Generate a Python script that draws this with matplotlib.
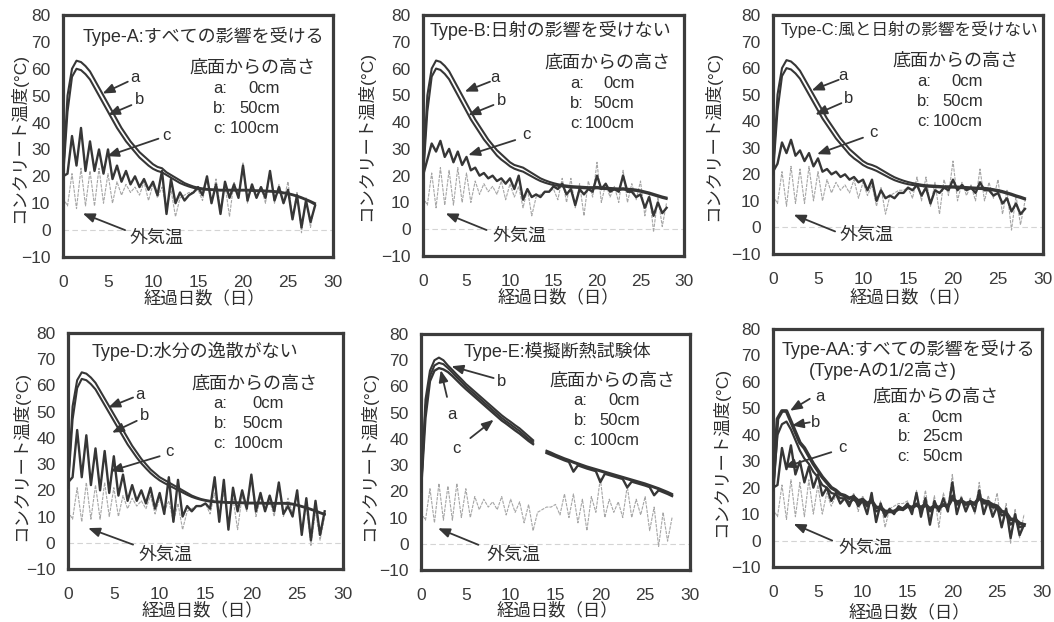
import numpy as np
import matplotlib
matplotlib.use("Agg")
import matplotlib.pyplot as plt

plt.rcParams['font.family'] = ['Liberation Sans', 'Noto Sans CJK JP', 'DejaVu Sans']

# ---------------- data (0.5-day grid, 0..28 days) ----------------
days = np.arange(0, 28.01, 0.5)
xticks = [0, 5, 10, 15, 20, 25, 30]
yticks = [-10, 0, 10, 20, 30, 40, 50, 60, 70, 80]

outdoor = [12, 9, 21, 8, 23, 9, 22, 9, 23, 10, 21, 10, 18, 13, 17, 14, 16, 13, 18, 11,
           17, 12, 16, 8, 15, 5, 12, 13, 14, 14, 15, 11, 19, 10, 19, 8, 17, 5, 18, 12,
           25, 10, 17, 12, 16, 10, 22, 10, 17, 11, 18, 5, 14, -1, 12, 1, 10]

# Type-A
a_A = [20, 50, 60, 63, 62.5, 61, 59, 56, 53, 50, 47, 44, 41, 38, 35.5, 33, 31, 29, 27.5, 26,
       24.5, 23.5, 23, 21.5, 20.5, 19.5, 18.5, 17.5, 16.8, 16.2, 15.8, 15.5, 15.3, 15.2, 15.1, 15, 15, 15, 15, 15,
       15, 15, 14.9, 14.8, 14.8, 14.7, 14.6, 14.5, 14.3, 14, 13.7, 13.3, 12.8, 12.2, 11.5, 10.8, 10]
b_A = [19, 44, 57, 60, 59.5, 58, 56, 53, 50, 47, 44, 41, 38, 35.5, 33, 31, 29, 27, 25.5, 24,
       22.8, 22, 21.5, 20.5, 19.5, 18.5, 17.5, 16.8, 16.2, 15.7, 15.3, 15.1, 15, 14.9, 14.8, 14.7, 14.7, 14.7, 14.7, 14.7,
       14.7, 14.7, 14.6, 14.5, 14.5, 14.4, 14.3, 14.2, 14, 13.7, 13.4, 13, 12.5, 11.9, 11.2, 10.4, 9.5]
c_A = [20, 21, 35, 24, 38, 22, 33, 22, 30, 21, 30, 19, 24, 18, 22, 17, 20, 16, 19, 15,
       18, 13, 22, 6, 19, 10, 14, 11, 13, 14, 16, 13, 20, 10, 17, 6, 18, 12, 17, 12,
       24, 11, 17, 12, 16, 12, 22, 11, 16, 10, 15, 4, 13, 1, 11, 3, 9]

# Type-B
a_B = [20, 50, 60, 63, 62.5, 61, 59, 56, 53, 50, 47, 44, 41, 38.5, 36, 33.5, 31.5, 29.5, 28, 26.5,
       25, 24, 23.5, 23, 22, 21, 20, 19, 18.3, 17.7, 17.2, 16.8, 16.5, 16.3, 16.1, 16, 15.9, 15.8, 15.7, 15.7,
       15.8, 15.6, 15.5, 15.4, 15.3, 15.2, 15.3, 15.1, 15, 14.8, 14.5, 14.1, 13.7, 13.2, 12.7, 12.2, 11.8]
b_B = [19, 44, 57, 60, 59.5, 58, 56, 53, 50, 47, 44, 41, 38.5, 36, 33.5, 31.5, 29.5, 27.5, 26, 24.8,
       23.5, 22.6, 22, 21.5, 20.6, 19.7, 18.8, 18, 17.4, 16.9, 16.5, 16.2, 16, 15.8, 15.6, 15.5, 15.4, 15.3, 15.2, 15.2,
       15.3, 15.1, 15, 14.9, 14.8, 14.7, 14.8, 14.6, 14.5, 14.3, 14, 13.6, 13.2, 12.7, 12.2, 11.7, 11.3]
c_B = [20, 26, 32, 29, 33, 27, 30, 25, 29, 24, 27, 22, 23, 20, 21, 19, 20, 18, 19, 17,
       19, 15, 20, 11, 15, 12, 13, 12, 14, 14, 16, 15, 17, 13, 15, 9, 15, 13, 15, 14,
       20, 15, 17, 14, 15, 14, 20, 14, 14, 12, 13, 8, 12, 5, 10, 6, 8]

# Type-C
a_C = [21, 50, 60, 63, 62.5, 61, 59, 56, 53, 50, 47, 44, 41, 38.5, 36, 33.5, 31.5, 29.5, 28, 26.5,
       25, 24, 23.5, 22.8, 21.8, 20.8, 19.8, 18.9, 18.2, 17.6, 17.1, 16.7, 16.4, 16.1, 15.9, 15.8, 15.7, 15.6, 15.5, 15.5,
       15.5, 15.4, 15.3, 15.2, 15.1, 15, 15, 14.9, 14.7, 14.4, 14.1, 13.7, 13.2, 12.7, 12.1, 11.6, 11]
b_C = [20, 44, 57, 60, 59.5, 58, 56, 53, 50, 47, 44, 41, 38.5, 36, 33.5, 31.5, 29.5, 27.5, 26, 24.8,
       23.5, 22.6, 22, 21.3, 20.4, 19.5, 18.6, 17.8, 17.2, 16.7, 16.3, 16, 15.8, 15.6, 15.4, 15.3, 15.2, 15.1, 15, 15,
       15, 14.9, 14.8, 14.7, 14.6, 14.5, 14.5, 14.4, 14.2, 13.9, 13.6, 13.2, 12.7, 12.2, 11.6, 11.1, 10.5]
c_C = [21, 24, 32, 28, 33, 27, 29, 25, 28, 23, 26, 21, 22, 20, 21, 19, 20, 18, 19, 17,
       18, 14, 18, 10, 14, 11, 12, 11, 13, 13, 15, 14, 16, 12, 15, 9, 14, 13, 15, 14,
       18, 14, 16, 14, 15, 13, 17, 14, 14, 12, 13, 9, 11, 6, 9, 5, 7]

# Type-D
a_D = [22, 52, 62, 65, 64.5, 63, 61, 58, 55, 52, 49, 46, 43, 40, 37, 34.5, 32, 30, 28, 26.5,
       25, 24, 23, 22, 21, 20, 19, 18, 17.3, 16.7, 16.3, 16, 15.8, 15.7, 15.6, 15.5, 15.5, 15.4, 15.4, 15.3,
       15.3, 15.3, 15.3, 15.2, 15.2, 15.2, 15.2, 15.2, 15.2, 14.9, 14.5, 14, 13.5, 12.9, 12.3, 11.6, 11]
b_D = [21, 47, 59, 62.5, 62, 60.5, 58.5, 55.5, 52.5, 49.5, 46.5, 43.5, 40.5, 37.5, 35, 32.5, 30.3, 28.4, 26.6, 25.1,
       23.8, 22.8, 21.9, 21, 20.1, 19.2, 18.3, 17.5, 16.9, 16.4, 16, 15.7, 15.5, 15.4, 15.3, 15.2, 15.2, 15.1, 15.1, 15,
       15, 15, 15, 14.9, 14.9, 14.9, 14.9, 14.9, 14.8, 14.6, 14.2, 13.7, 13.2, 12.6, 12, 11.3, 10.7]
c_D = [23, 25, 43, 25, 41, 22, 36, 20, 35, 19, 33, 18, 26, 16, 22, 16, 20, 15, 21, 13,
       19, 11, 25, 8, 24, 10, 14, 12, 14, 14, 15, 13, 25, 8, 24, 5, 21, 12, 20, 13,
       26, 12, 19, 12, 18, 12, 23, 11, 14, 10, 20, 3, 17, 1, 16, 3, 12]

# Type-E (gap in record around day 13)
nan = np.nan
a_E = [20, 52, 64, 68, 69, 68.5, 67, 65.3, 63.5, 61.8, 60, 58.5, 57, 55.5, 54, 52.5, 51, 49.5, 48, 46.7,
       45.5, 44.2, 43, 41.5, 40, 38.8, nan, nan, 35, 34.3, 33.6, 32.9, 32.2, 31.6, 30.9, 30.3, 29.7, 29.1, 28.6, 28.1,
       27.6, 27.1, 26.6, 26.1, 25.6, 25.1, 24.6, 24.1, 23.6, 23.1, 22.6, 22, 21.4, 20.8, 20.1, 19.4, 18.6]
b_E = [20, 55, 66, 70, 71, 70, 68, 66.3, 64.5, 62.8, 61, 59.5, 58, 56.5, 55, 53.5, 52, 50.5, 49, 47.7,
       46.5, 45.2, 44, 42.5, 41, 39.5, nan, nan, 35.5, 34.8, 34, 33.3, 32.6, 32, 31.3, 30.7, 30.1, 29.5, 29, 28.5,
       28, 27.5, 27, 26.5, 26, 25.5, 25, 24.5, 24, 23.5, 23, 22.4, 21.8, 21.2, 20.5, 19.8, 19]
c_E = [20, 48, 62, 66, 67, 66.5, 65.5, 64, 62.3, 60.6, 59, 57.5, 56, 54.5, 53, 51.5, 50, 48.5, 47, 45.8,
       44.5, 43.2, 42, 40.6, 39.2, 38, nan, nan, 34.6, 33.9, 33.2, 32.5, 31.8, 31.2, 27.5, 29.9, 29.3, 28.7, 28.2, 27.7,
       23.5, 26.7, 26.2, 25.7, 25.2, 24.7, 21.5, 23.7, 23.2, 22.7, 22.2, 21.6, 18.5, 20.4, 19.7, 19, 18.2]

# Type-AA (half height)
a_AA = [20, 46, 49, 49, 45, 41, 37, 35, 32, 29, 26.5, 24, 22, 20, 19, 17.5, 17, 16, 16.5, 15,
        15.5, 14, 15, 12.5, 12.5, 11, 11, 11, 12, 12, 13, 12.5, 13.5, 12.5, 13.5, 12, 13, 12.5, 13.5, 13,
        16, 14.5, 15, 14, 14.5, 14, 16, 15, 14.5, 13.5, 13, 11, 10.5, 8, 8, 6.5, 6]
b_AA = [19, 40, 44, 45, 42, 38, 34, 31, 29, 26, 24, 21, 20, 18, 17.5, 16, 16, 14.5, 15.5, 14,
        15, 13, 15, 11, 12, 10.5, 11, 10.5, 12, 11.5, 13, 12, 14, 11.5, 13.5, 11, 13, 12, 13.5, 12.5,
        17, 13.5, 15, 13.5, 14, 13.5, 16.5, 14, 14, 12.5, 12.5, 9.5, 10, 6, 8, 5, 5.5]
c_AA = [20, 21, 35, 27, 36, 25, 30, 22, 28, 20, 25, 17, 20, 15, 18, 14, 16, 13, 17, 13,
        15, 10, 18, 7, 14, 9, 12, 10, 13, 12, 14, 10, 18, 9, 16, 6, 15, 11, 16, 11,
        22, 10, 16, 11, 15, 11, 19, 10, 15, 9, 13, 5, 12, 1, 10, 2, 6]

# ---------------- figure ----------------
W, H = 1054, 622
fig = plt.figure(figsize=(W / 100, H / 100), dpi=100)
fig.patch.set_facecolor('white')

INK = '#363636'
GRAY = '#a6a6a6'
TXT = '#2e2e2e'


def rect(l, t, r, b):
    return [l / W, 1 - b / H, (r - l) / W, (b - t) / H]


def ftext(x, y, s, **kw):
    fig.text(x / W, 1 - y / H, s, **kw)


def arrow(ax, tail, tip):
    ax.annotate('', xy=tip, xytext=tail,
                arrowprops=dict(arrowstyle='-|>,head_length=0.7,head_width=0.28',
                                color=INK, lw=1.3, shrinkA=0, shrinkB=0))


def panel(box, a, b, c, title, legend_left, legend_right, legend_top, legend_vals,
          xlabel_pos, ylabel_pos, lw_a=1.5, lw_b=1.5, title_size=13):
    ax = fig.add_axes(rect(*box))
    ax.set_xlim(0, 30)
    ax.set_ylim(-10, 80)
    ax.axhline(0, color='#d4d4d4', lw=0.8, ls=(0, (5, 3)), zorder=0)
    ax.plot(days, outdoor, color=GRAY, lw=0.8, ls=(0, (3, 1)), zorder=1)
    ax.plot(days, c, color=INK, lw=1.7, zorder=2)
    ax.plot(days, b, color=INK, lw=lw_b, zorder=3)
    ax.plot(days, a, color=INK, lw=lw_a, zorder=4)
    ax.set_xticks(xticks)
    ax.set_yticks(yticks)
    ax.set_xticklabels([str(v) for v in xticks])
    ax.set_yticklabels([str(v).replace('-', '\u2212') for v in yticks])
    ax.tick_params(axis='both', length=0, labelsize=12.5, colors='#3a3a3a')
    ax.tick_params(axis='x', pad=13)
    ax.tick_params(axis='y', pad=9)
    for s in ax.spines.values():
        s.set_linewidth(2.3)
        s.set_color('#3c3c3c')
    for x, y, s, ha in title:
        ax.text(x, y, s, ha=ha, va='center', fontsize=title_size, color=TXT)
    cx = (legend_left + legend_right) / 2
    ax.text(cx + 0.6, legend_top, '底面からの高さ', ha='center', va='center',
            fontsize=13, color=TXT)
    for k, (lab, val) in enumerate(zip(['a', 'b', 'c'], legend_vals)):
        yy = legend_top - 7.5 * (k + 1)
        ax.text(legend_left, yy, lab + ':', ha='left', va='center', fontsize=12, color=TXT)
        ax.text(legend_right, yy, val, ha='right', va='center', fontsize=12, color=TXT)
    ftext(xlabel_pos[0], xlabel_pos[1], '経過日数（日）', ha='center', va='center',
          fontsize=12.5, color=TXT)
    ftext(ylabel_pos[0], ylabel_pos[1], 'コンクリート温度(°C)', ha='center', va='center',
          rotation=90, fontsize=12.5, color=TXT)
    return ax


def letter(ax, x, y, s):
    ax.text(x, y, s, ha='center', va='center', fontsize=12, color=TXT)


def outdoor_label(ax, x, y, tail, tip):
    ax.text(x, y, '外気温', ha='center', va='center', fontsize=13, color=TXT)
    arrow(ax, tail, tip)


vals_std = ['0cm', '50cm', '100cm']

# Panel A
ax = panel((63, 15, 333, 257), a_A, b_A, c_A,
           [(2.2, 72, 'Type-A:すべての影響を受ける', 'left')],
           16.7, 24.1, 60.2, vals_std, (204, 298), (18, 138))
letter(ax, 8.0, 56.8, 'a'); arrow(ax, (7.2, 55.2), (4.4, 50.8))
letter(ax, 8.5, 48.4, 'b'); arrow(ax, (7.6, 46.5), (5.0, 42.8))
letter(ax, 11.5, 35.3, 'c'); arrow(ax, (10.6, 34.0), (4.9, 27.5))
outdoor_label(ax, 10.4, -3.1, (6.9, 0.0), (2.2, 6.2))

# Panel B
ax = panel((423, 15, 684, 256), a_B, b_B, c_B,
           [(0.76, 74.4, 'Type-B:日射の影響を受けない', 'left')],
           16.9, 24.3, 62.0, vals_std, (558, 297), (365, 136))
letter(ax, 8.3, 56.7, 'a'); arrow(ax, (7.7, 55.1), (4.8, 51.4))
letter(ax, 9.0, 48.2, 'b'); arrow(ax, (8.1, 46.4), (5.2, 42.6))
letter(ax, 11.9, 35.2, 'c'); arrow(ax, (10.6, 33.3), (5.2, 27.7))
outdoor_label(ax, 11.1, -2.8, (7.3, -0.3), (2.6, 5.9))

# Panel C
ax = panel((773, 15, 1043, 254), a_C, b_C, c_C,
           [(0.8, 74.4, 'Type-C:風と日射の影響を受けない', 'left')],
           16.0, 23.3, 62.5, vals_std, (910, 297), (712, 136), title_size=12)
letter(ax, 7.8, 57.1, 'a'); arrow(ax, (7.3, 55.6), (4.3, 51.6))
letter(ax, 8.4, 48.7, 'b'); arrow(ax, (7.6, 46.8), (4.7, 42.5))
letter(ax, 11.2, 35.6, 'c'); arrow(ax, (10.0, 33.8), (4.9, 27.6))
outdoor_label(ax, 10.4, -3.0, (6.9, -1.5), (2.3, 4.8))

# Panel D
ax = panel((68, 333, 343, 569), a_D, b_D, c_D,
           [(2.6, 73.2, 'Type-D:水分の逸散がない', 'left')],
           15.9, 23.5, 60.5, vals_std, (202.5, 610), (20, 456))
letter(ax, 7.9, 56.7, 'a'); arrow(ax, (7.1, 55.4), (4.4, 51.6))
letter(ax, 8.4, 48.4, 'b'); arrow(ax, (7.5, 46.5), (4.8, 42.0))
letter(ax, 11.1, 35.0, 'c'); arrow(ax, (10.0, 33.0), (4.6, 27.3))
outdoor_label(ax, 10.6, -4.6, (7.1, -0.7), (2.2, 5.6))

# Panel E
ax = panel((421, 334, 690, 570), a_E, b_E, c_E,
           [(4.7, 73.4, 'Type-E:模擬断熱試験体', 'left')],
           17.0, 24.4, 62.0, vals_std, (557.5, 610), (368, 456))
letter(ax, 9.0, 62.0, 'b'); arrow(ax, (8.1, 63.2), (3.4, 67.7))
letter(ax, 3.4, 49.2, 'a'); arrow(ax, (2.9, 56.0), (2.2, 66.2))
letter(ax, 4.0, 36.5, 'c'); arrow(ax, (5.5, 40.3), (8.1, 47.3))
outdoor_label(ax, 10.3, -4.2, (6.4, -0.4), (1.9, 5.9))

# Panel AA
ax = panel((773, 329, 1042, 567), a_AA, b_AA, c_AA,
           [(1.0, 72.4, 'Type-AA:すべての影響を受ける', 'left'),
            (12.3, 64.3, '(Type-Aの1/2高さ)', 'center')],
           13.9, 21.2, 54.2, ['0cm', '25cm', '50cm'], (909, 612), (720, 452),
           lw_a=2.6, lw_b=1.6)
letter(ax, 5.2, 54.4, 'a'); arrow(ax, (4.1, 53.6), (1.9, 49.1))
letter(ax, 4.8, 44.7, 'b'); arrow(ax, (4.1, 44.7), (2.1, 43.5))
letter(ax, 7.7, 35.3, 'c'); arrow(ax, (6.5, 33.4), (1.2, 27.7))
outdoor_label(ax, 10.3, -3.1, (6.6, 0.0), (2.3, 6.3))

fig.savefig('out.png', dpi=100, facecolor='white')
